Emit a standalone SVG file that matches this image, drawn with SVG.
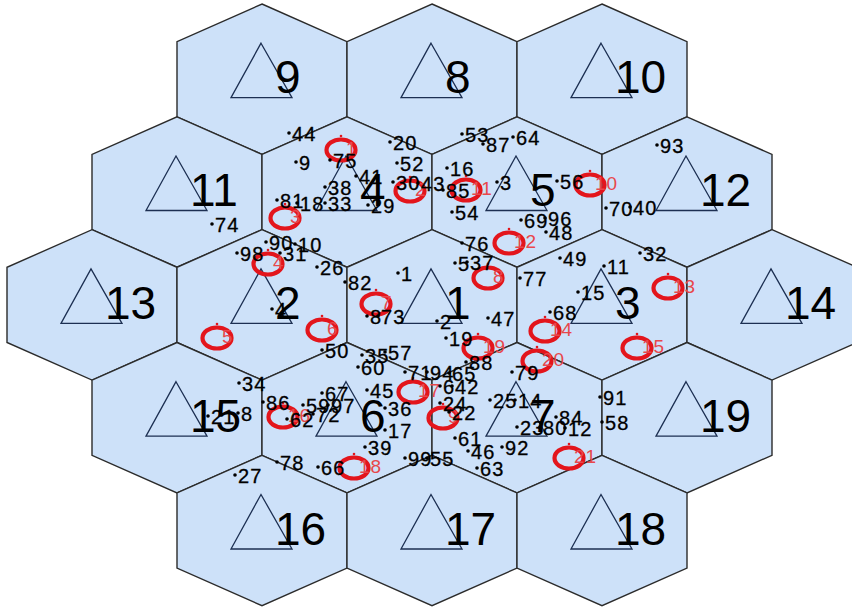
<svg xmlns="http://www.w3.org/2000/svg" xmlns:xlink="http://www.w3.org/1999/xlink" width="852" height="607" viewBox="0 0 852 607">
<style>
.hex{fill:#cde1f9;stroke:#2b2b2b;stroke-width:1.4}
.tri{fill:none;stroke:#1c2f52;stroke-width:1.3}
.big{font-family:"Liberation Sans",Arial,sans-serif;font-size:46px;fill:#000}
.t{font-family:"Liberation Sans",Arial,sans-serif;font-size:20px;letter-spacing:1.2px;fill:#000;stroke:#000;stroke-width:0.3}
.r{font-family:"Liberation Sans",Arial,sans-serif;font-size:19px;letter-spacing:1px;fill:#e8474c}
.ring{fill:none;stroke:#e3151c;stroke-width:4.2}
</style>
<defs>
<polygon id="hx" class="hex" points="0,-75.2 85,-37.6 85,37.6 0,75.2 -85,37.6 -85,-37.6"/>
<polygon id="tr" class="tri" points="-1,-36 30,18.5 -31,18.5"/>
<circle id="d" r="1.8" fill="#000"/>
<g id="rg"><ellipse class="ring" rx="14.5" ry="10.5"/><circle cx="0" cy="-14" r="1.3" fill="#e3151c"/></g>
</defs>
<rect width="852" height="607" fill="#fff"/>
<g id="cells">
<g id="cell-9"><use href="#hx" x="262" y="79.2"/><use href="#tr" x="262" y="79.2"/><text class="big" x="275" y="93.2">9</text></g>
<g id="cell-8"><use href="#hx" x="432" y="79.2"/><use href="#tr" x="432" y="79.2"/><text class="big" x="445" y="93.2">8</text></g>
<g id="cell-10"><use href="#hx" x="602" y="79.2"/><use href="#tr" x="602" y="79.2"/><text class="big" x="615" y="93.2">10</text></g>
<g id="cell-11"><use href="#hx" x="177" y="192"/><use href="#tr" x="177" y="192"/><text class="big" x="190" y="206">11</text></g>
<g id="cell-4"><use href="#hx" x="347" y="192"/><use href="#tr" x="347" y="192"/><text class="big" x="360" y="206">4</text></g>
<g id="cell-5"><use href="#hx" x="517" y="192"/><use href="#tr" x="517" y="192"/><text class="big" x="530" y="206">5</text></g>
<g id="cell-12"><use href="#hx" x="687" y="192"/><use href="#tr" x="687" y="192"/><text class="big" x="700" y="206">12</text></g>
<g id="cell-13"><use href="#hx" x="92" y="304.9"/><use href="#tr" x="92" y="304.9"/><text class="big" x="105" y="318.9">13</text></g>
<g id="cell-2"><use href="#hx" x="262" y="304.9"/><use href="#tr" x="262" y="304.9"/><text class="big" x="275" y="318.9">2</text></g>
<g id="cell-1"><use href="#hx" x="432" y="304.9"/><use href="#tr" x="432" y="304.9"/><text class="big" x="445" y="318.9">1</text></g>
<g id="cell-3"><use href="#hx" x="602" y="304.9"/><use href="#tr" x="602" y="304.9"/><text class="big" x="615" y="318.9">3</text></g>
<g id="cell-14"><use href="#hx" x="772" y="304.9"/><use href="#tr" x="772" y="304.9"/><text class="big" x="785" y="318.9">14</text></g>
<g id="cell-15"><use href="#hx" x="177" y="417.7"/><use href="#tr" x="177" y="417.7"/><text class="big" x="190" y="431.7">15</text></g>
<g id="cell-6"><use href="#hx" x="347" y="417.7"/><use href="#tr" x="347" y="417.7"/><text class="big" x="360" y="431.7">6</text></g>
<g id="cell-7"><use href="#hx" x="517" y="417.7"/><use href="#tr" x="517" y="417.7"/><text class="big" x="530" y="431.7">7</text></g>
<g id="cell-19"><use href="#hx" x="687" y="417.7"/><use href="#tr" x="687" y="417.7"/><text class="big" x="700" y="431.7">19</text></g>
<g id="cell-16"><use href="#hx" x="262" y="530.5"/><use href="#tr" x="262" y="530.5"/><text class="big" x="275" y="544.5">16</text></g>
<g id="cell-17"><use href="#hx" x="432" y="530.5"/><use href="#tr" x="432" y="530.5"/><text class="big" x="445" y="544.5">17</text></g>
<g id="cell-18"><use href="#hx" x="602" y="530.5"/><use href="#tr" x="602" y="530.5"/><text class="big" x="615" y="544.5">18</text></g>
</g>
<g id="stations">
<use href="#rg" x="341" y="150"/><text class="r" x="346" y="155">1</text>
<use href="#rg" x="410" y="191"/><text class="r" x="415" y="196">2</text>
<use href="#rg" x="285" y="218"/><text class="r" x="290" y="223">3</text>
<use href="#rg" x="268" y="264"/><text class="r" x="273" y="269">4</text>
<use href="#rg" x="217" y="338"/><text class="r" x="222" y="343">5</text>
<use href="#rg" x="322" y="330"/><text class="r" x="327" y="335">6</text>
<use href="#rg" x="376" y="304"/><text class="r" x="381" y="309">7</text>
<use href="#rg" x="488" y="278"/><text class="r" x="493" y="283">8</text>
<use href="#rg" x="443" y="418"/><text class="r" x="448" y="423">9</text>
<use href="#rg" x="590" y="185"/><text class="r" x="595" y="190">10</text>
<use href="#rg" x="466" y="190"/><text class="r" x="471" y="195">11</text>
<use href="#rg" x="509" y="243"/><text class="r" x="514" y="248">12</text>
<use href="#rg" x="668" y="288"/><text class="r" x="673" y="293">13</text>
<use href="#rg" x="545" y="331"/><text class="r" x="550" y="336">14</text>
<use href="#rg" x="637" y="348"/><text class="r" x="642" y="353">15</text>
<use href="#rg" x="283" y="417"/><text class="r" x="288" y="422">16</text>
<use href="#rg" x="413" y="392"/><text class="r" x="418" y="397">17</text>
<use href="#rg" x="354" y="468"/><text class="r" x="359" y="473">18</text>
<use href="#rg" x="478" y="348"/><text class="r" x="483" y="353">19</text>
<use href="#rg" x="537" y="361"/><text class="r" x="542" y="366">20</text>
<use href="#rg" x="569" y="458"/><text class="r" x="574" y="463">21</text>
</g>
<g id="users">
<use href="#d" x="289" y="133"/><text class="t" x="292" y="140.5">44</text>
<use href="#d" x="296" y="162"/><text class="t" x="299" y="169.5">9</text>
<use href="#d" x="330" y="160"/><text class="t" x="333" y="167.5">75</text>
<use href="#d" x="390" y="142"/><text class="t" x="393" y="149.5">20</text>
<use href="#d" x="397" y="163"/><text class="t" x="400" y="170.5">52</text>
<use href="#d" x="356" y="176"/><text class="t" x="359" y="183.5">41</text>
<use href="#d" x="325" y="187"/><text class="t" x="328" y="194.5">38</text>
<use href="#d" x="393" y="182"/><text class="t" x="396" y="189.5">30</text>
<use href="#d" x="418" y="183"/><text class="t" x="421" y="190.5">43</text>
<use href="#d" x="277" y="200"/><text class="t" x="280" y="207.5">81</text>
<use href="#d" x="297" y="203"/><text class="t" x="300" y="210.5">18</text>
<use href="#d" x="325" y="203"/><text class="t" x="328" y="210.5">33</text>
<use href="#d" x="368" y="205"/><text class="t" x="371" y="212.5">29</text>
<use href="#d" x="462" y="134"/><text class="t" x="465" y="141.5">53</text>
<use href="#d" x="483" y="144"/><text class="t" x="486" y="151.5">87</text>
<use href="#d" x="513" y="137"/><text class="t" x="516" y="144.5">64</text>
<use href="#d" x="447" y="168"/><text class="t" x="450" y="175.5">16</text>
<use href="#d" x="443" y="190"/><text class="t" x="446" y="197.5">85</text>
<use href="#d" x="497" y="182"/><text class="t" x="500" y="189.5">3</text>
<use href="#d" x="452" y="212"/><text class="t" x="455" y="219.5">54</text>
<use href="#d" x="557" y="181"/><text class="t" x="560" y="188.5">56</text>
<use href="#d" x="521" y="220"/><text class="t" x="524" y="227.5">69</text>
<use href="#d" x="545" y="218"/><text class="t" x="548" y="225.5">96</text>
<use href="#d" x="546" y="232"/><text class="t" x="549" y="239.5">48</text>
<use href="#d" x="657" y="145"/><text class="t" x="660" y="152.5">93</text>
<use href="#d" x="606" y="208"/><text class="t" x="609" y="215.5">70</text>
<use href="#d" x="630" y="207"/><text class="t" x="633" y="214.5">40</text>
<use href="#d" x="212" y="224"/><text class="t" x="215" y="231.5">74</text>
<use href="#d" x="237" y="253"/><text class="t" x="240" y="260.5">98</text>
<use href="#d" x="266" y="242"/><text class="t" x="269" y="249.5">90</text>
<use href="#d" x="280" y="253"/><text class="t" x="283" y="260.5">31</text>
<use href="#d" x="295" y="244"/><text class="t" x="298" y="251.5">10</text>
<use href="#d" x="317" y="267"/><text class="t" x="320" y="274.5">26</text>
<use href="#d" x="345" y="282"/><text class="t" x="348" y="289.5">82</text>
<use href="#d" x="272" y="309"/><text class="t" x="275" y="316.5">4</text>
<use href="#d" x="322" y="350"/><text class="t" x="325" y="357.5">50</text>
<use href="#d" x="398" y="273"/><text class="t" x="401" y="280.5">1</text>
<use href="#d" x="462" y="243"/><text class="t" x="465" y="250.5">76</text>
<use href="#d" x="455" y="263"/><text class="t" x="458" y="270.5">5</text>
<use href="#d" x="467" y="262"/><text class="t" x="470" y="269.5">37</text>
<use href="#d" x="520" y="278"/><text class="t" x="523" y="285.5">77</text>
<use href="#d" x="488" y="318"/><text class="t" x="491" y="325.5">47</text>
<use href="#d" x="437" y="321"/><text class="t" x="440" y="328.5">2</text>
<use href="#d" x="446" y="338"/><text class="t" x="449" y="345.5">19</text>
<use href="#d" x="367" y="316"/><text class="t" x="370" y="323.5">8</text>
<use href="#d" x="378" y="316"/><text class="t" x="381" y="323.5">73</text>
<use href="#d" x="560" y="258"/><text class="t" x="563" y="265.5">49</text>
<use href="#d" x="640" y="253"/><text class="t" x="643" y="260.5">32</text>
<use href="#d" x="604" y="266"/><text class="t" x="607" y="273.5">11</text>
<use href="#d" x="578" y="292"/><text class="t" x="581" y="299.5">15</text>
<use href="#d" x="550" y="312"/><text class="t" x="553" y="319.5">68</text>
<use href="#d" x="362" y="355"/><text class="t" x="365" y="362.5">35</text>
<use href="#d" x="385" y="352"/><text class="t" x="388" y="359.5">57</text>
<use href="#d" x="358" y="367"/><text class="t" x="361" y="374.5">60</text>
<use href="#d" x="405" y="372"/><text class="t" x="408" y="379.5">71</text>
<use href="#d" x="427" y="372"/><text class="t" x="430" y="379.5">94</text>
<use href="#d" x="449" y="373"/><text class="t" x="452" y="380.5">65</text>
<use href="#d" x="466" y="362"/><text class="t" x="469" y="369.5">88</text>
<use href="#d" x="440" y="386"/><text class="t" x="443" y="393.5">6</text>
<use href="#d" x="452" y="386"/><text class="t" x="455" y="393.5">42</text>
<use href="#d" x="440" y="403"/><text class="t" x="443" y="410.5">24</text>
<use href="#d" x="449" y="412"/><text class="t" x="452" y="419.5">22</text>
<use href="#d" x="367" y="390"/><text class="t" x="370" y="397.5">45</text>
<use href="#d" x="385" y="408"/><text class="t" x="388" y="415.5">36</text>
<use href="#d" x="385" y="430"/><text class="t" x="388" y="437.5">17</text>
<use href="#d" x="365" y="447"/><text class="t" x="368" y="454.5">39</text>
<use href="#d" x="405" y="458"/><text class="t" x="408" y="465.5">99</text>
<use href="#d" x="427" y="458"/><text class="t" x="430" y="465.5">55</text>
<use href="#d" x="455" y="438"/><text class="t" x="458" y="445.5">61</text>
<use href="#d" x="468" y="451"/><text class="t" x="471" y="458.5">46</text>
<use href="#d" x="477" y="468"/><text class="t" x="480" y="475.5">63</text>
<use href="#d" x="502" y="447"/><text class="t" x="505" y="454.5">92</text>
<use href="#d" x="490" y="400"/><text class="t" x="493" y="407.5">25</text>
<use href="#d" x="515" y="400"/><text class="t" x="518" y="407.5">14</text>
<use href="#d" x="517" y="427"/><text class="t" x="520" y="434.5">23</text>
<use href="#d" x="540" y="427"/><text class="t" x="543" y="434.5">80</text>
<use href="#d" x="565" y="428"/><text class="t" x="568" y="435.5">12</text>
<use href="#d" x="556" y="417"/><text class="t" x="559" y="424.5">84</text>
<use href="#d" x="512" y="372"/><text class="t" x="515" y="379.5">79</text>
<use href="#d" x="600" y="397"/><text class="t" x="603" y="404.5">91</text>
<use href="#d" x="602" y="422"/><text class="t" x="605" y="429.5">58</text>
<use href="#d" x="239" y="383"/><text class="t" x="242" y="390.5">34</text>
<use href="#d" x="208" y="416"/><text class="t" x="211" y="423.5">21</text>
<use href="#d" x="238" y="413"/><text class="t" x="241" y="420.5">8</text>
<use href="#d" x="263" y="402"/><text class="t" x="266" y="409.5">86</text>
<use href="#d" x="303" y="405"/><text class="t" x="306" y="412.5">59</text>
<use href="#d" x="322" y="393"/><text class="t" x="325" y="400.5">67</text>
<use href="#d" x="328" y="405"/><text class="t" x="331" y="412.5">97</text>
<use href="#d" x="287" y="419"/><text class="t" x="290" y="426.5">62</text>
<use href="#d" x="313" y="414"/><text class="t" x="316" y="421.5">72</text>
<use href="#d" x="277" y="462"/><text class="t" x="280" y="469.5">78</text>
<use href="#d" x="318" y="467"/><text class="t" x="321" y="474.5">66</text>
<use href="#d" x="235" y="475"/><text class="t" x="238" y="482.5">27</text>
</g>
</svg>
